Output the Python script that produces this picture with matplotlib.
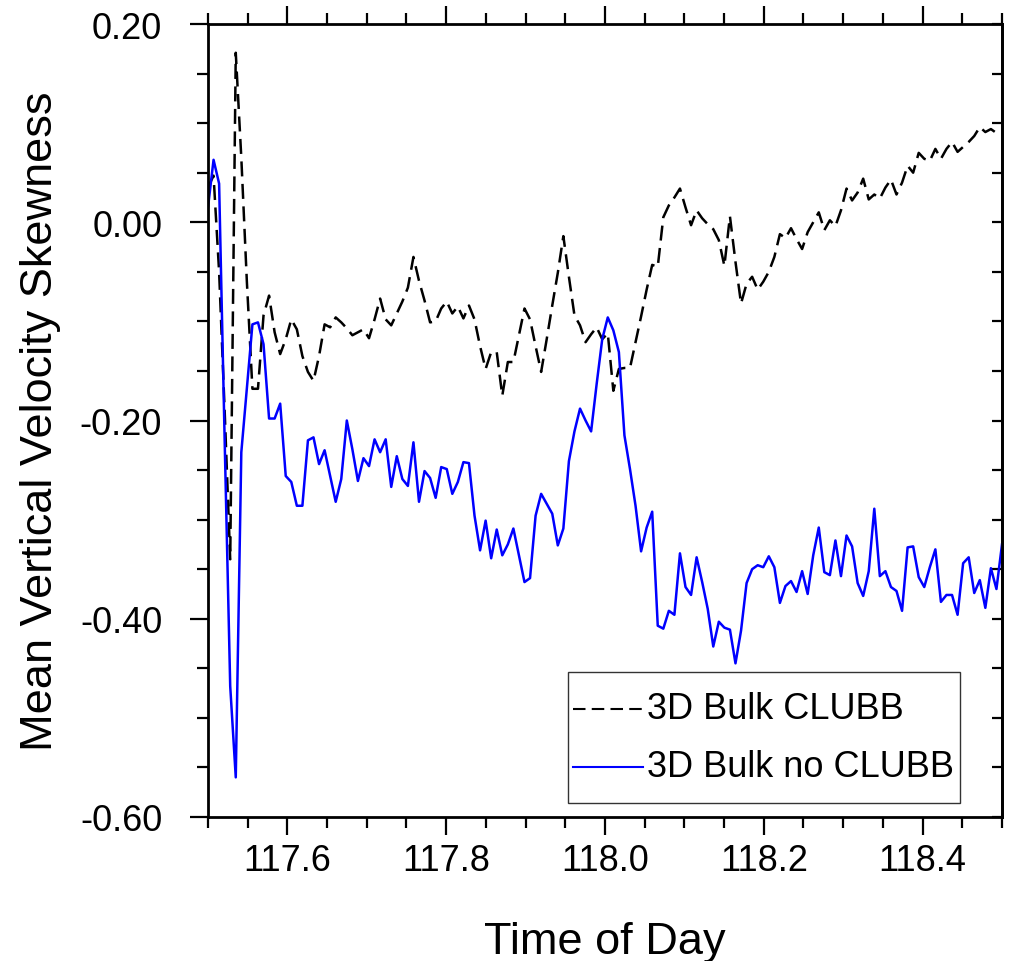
import numpy as np
import matplotlib
matplotlib.use("Agg")
import matplotlib.pyplot as plt
from matplotlib.lines import Line2D
from matplotlib.patches import Rectangle

plt.rcParams['font.family'] = ['Liberation Sans', 'DejaVu Sans']
plt.rcParams['axes.unicode_minus'] = False

# 10-minute output, day 117.5 to 118.5
time = np.linspace(117.5, 118.5, 144)

skew_clubb = [
    0.035, 0.047, -0.050, -0.190, -0.340, 0.171, 0.065, -0.060, -0.168, -0.168,
    -0.094, -0.074, -0.111, -0.133, -0.118, -0.098, -0.108, -0.135, -0.151, -0.160,
    -0.135, -0.103, -0.106, -0.096, -0.101, -0.107, -0.114, -0.111, -0.108, -0.117,
    -0.098, -0.077, -0.098, -0.104, -0.092, -0.080, -0.066, -0.035, -0.059, -0.079,
    -0.101, -0.100, -0.087, -0.080, -0.092, -0.085, -0.097, -0.084, -0.098, -0.125,
    -0.148, -0.131, -0.131, -0.175, -0.141, -0.141, -0.114, -0.087, -0.098, -0.125,
    -0.151, -0.118, -0.084, -0.051, -0.014, -0.055, -0.094, -0.104, -0.121, -0.113,
    -0.106, -0.118, -0.112, -0.170, -0.148, -0.147, -0.147, -0.121, -0.095, -0.068,
    -0.043, -0.045, 0.005, 0.017, 0.025, 0.034, 0.015, -0.003, 0.012, 0.004,
    -0.002, -0.007, -0.018, -0.044, 0.006, -0.040, -0.082, -0.062, -0.055, -0.068,
    -0.060, -0.050, -0.035, -0.012, -0.016, -0.006, -0.017, -0.027, -0.010, 0.000,
    0.010, -0.008, 0.002, -0.004, 0.012, 0.034, 0.022, 0.030, 0.044, 0.023,
    0.028, 0.024, 0.035, 0.043, 0.028, 0.040, 0.057, 0.050, 0.070, 0.064,
    0.062, 0.074, 0.064, 0.074, 0.081, 0.071, 0.076, 0.081, 0.087, 0.096,
    0.091, 0.094, 0.090, 0.089,
]

skew_no_clubb = [
    0.015, 0.063, 0.039, -0.220, -0.468, -0.560, -0.232, -0.167, -0.103, -0.101,
    -0.123, -0.198, -0.198, -0.183, -0.256, -0.262, -0.286, -0.286, -0.220, -0.217,
    -0.244, -0.230, -0.256, -0.282, -0.259, -0.200, -0.229, -0.261, -0.238, -0.246,
    -0.219, -0.232, -0.219, -0.267, -0.236, -0.259, -0.266, -0.222, -0.282, -0.251,
    -0.258, -0.278, -0.247, -0.249, -0.274, -0.262, -0.242, -0.243, -0.296, -0.331,
    -0.301, -0.339, -0.310, -0.336, -0.325, -0.309, -0.336, -0.363, -0.359, -0.296,
    -0.274, -0.284, -0.294, -0.326, -0.309, -0.241, -0.211, -0.188, -0.200, -0.211,
    -0.163, -0.118, -0.096, -0.109, -0.131, -0.215, -0.249, -0.286, -0.332, -0.308,
    -0.292, -0.407, -0.410, -0.392, -0.396, -0.334, -0.368, -0.376, -0.338, -0.363,
    -0.390, -0.428, -0.403, -0.409, -0.411, -0.445, -0.412, -0.364, -0.350, -0.346,
    -0.348, -0.337, -0.348, -0.384, -0.367, -0.362, -0.373, -0.352, -0.375, -0.336,
    -0.308, -0.353, -0.356, -0.321, -0.357, -0.316, -0.327, -0.364, -0.377, -0.352,
    -0.289, -0.357, -0.352, -0.368, -0.372, -0.392, -0.328, -0.327, -0.358, -0.368,
    -0.348, -0.330, -0.383, -0.376, -0.376, -0.396, -0.344, -0.338, -0.374, -0.361,
    -0.389, -0.349, -0.370, -0.325,
]

series_names = ["3D Bulk CLUBB", "3D Bulk no CLUBB"]
x_ticks = [117.6, 117.8, 118.0, 118.2, 118.4]
x_ticklabels = ["117.6", "117.8", "118.0", "118.2", "118.4"]
y_ticks = [-0.6, -0.4, -0.2, 0.0, 0.2]
y_ticklabels = ["-0.60", "-0.40", "-0.20", "0.00", "0.20"]

fig = plt.figure(figsize=(10.16, 9.62), dpi=100)
ax = fig.add_axes([208 / 1016, 1 - 818 / 962, 794 / 1016, 793 / 962])

ax.plot(time, skew_clubb, color="black", lw=1.8, ls=(0, (6, 3)))
ax.plot(time, skew_no_clubb, color="blue", lw=1.8)

ax.set_xlim(117.5, 118.5)
ax.set_ylim(-0.6, 0.2)
ax.set_xticks(x_ticks)
ax.set_xticklabels(x_ticklabels)
ax.set_xticks(np.arange(117.5, 118.51, 0.05), minor=True)
ax.set_yticks(y_ticks)
ax.set_yticklabels(y_ticklabels)
ax.set_yticks(np.arange(-0.6, 0.201, 0.05), minor=True)

for s in ax.spines.values():
    s.set_linewidth(2.0)

ax.tick_params(axis="both", which="both", width=1.6, labelsize=26)
ax.tick_params(axis="x", which="both", top=True, direction="out")
ax.tick_params(axis="x", which="major", length=13, pad=6)
ax.tick_params(axis="x", which="minor", length=8)
ax.tick_params(axis="y", which="both", right=False, direction="out")
ax.tick_params(axis="y", which="major", length=13, pad=20)
ax.tick_params(axis="y", which="minor", length=8)

# right side ticks point inward
rax = ax.secondary_yaxis("right")
rax.set_yticks(y_ticks)
rax.set_yticks(np.arange(-0.6, 0.201, 0.05), minor=True)
rax.tick_params(axis="y", which="both", direction="in", length=7, width=1.6,
                labelright=False)
rax.spines["right"].set_linewidth(2.0)

ax.set_xlabel("Time of Day", fontsize=32.5, va="center")
ax.xaxis.set_label_coords(0.5, -0.157)
ax.set_ylabel("Mean Vertical Velocity Skewness", fontsize=32.5, va="center")
ax.yaxis.set_label_coords(-0.211, 0.5)

# legend box drawn in axes coordinates
lx0, lx1 = (568 - 208) / 794, (960 - 208) / 794
ly0, ly1 = (818 - 804) / 793, (818 - 673) / 793
ax.add_patch(Rectangle((lx0, ly0), lx1 - lx0, ly1 - ly0, transform=ax.transAxes,
                       fill=False, edgecolor="#333333", lw=1.0, zorder=5))
rows = [(818 - 710) / 793, (818 - 768) / 793]
styles = [dict(color="black", ls=(0, (6, 3))), dict(color="blue", ls="-")]
for name, yy, st in zip(series_names, rows, styles):
    ax.add_line(Line2D([(573 - 208) / 794, (643 - 208) / 794], [yy, yy],
                       transform=ax.transAxes, lw=1.5, zorder=6, **st))
    ax.text((647 - 208) / 794, yy, name, transform=ax.transAxes, fontsize=26,
            va="center", ha="left", zorder=6)

fig.savefig("out.png", dpi=100)
